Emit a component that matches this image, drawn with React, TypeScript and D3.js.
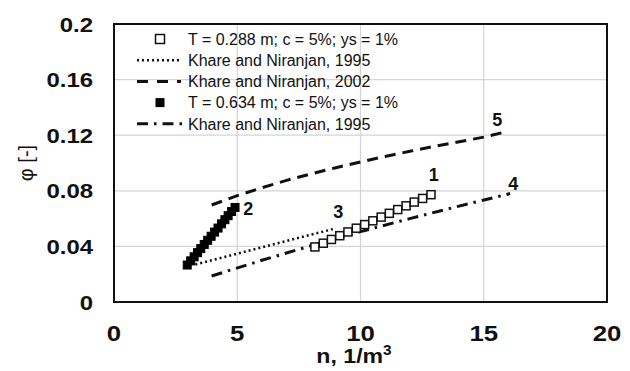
import React from "react";
import * as d3 from "d3";

const xTicks = [0, 5, 10, 15, 20];
const yTicks = [0, 0.04, 0.08, 0.12, 0.16, 0.2];
const yTickLabels = ["0", "0.04", "0.08", "0.12", "0.16", "0.2"];

// Series 1: T = 0.288 m (open squares)
const s1x = [8.15, 8.49, 8.82, 9.16, 9.49, 9.83, 10.17, 10.5, 10.84, 11.17, 11.51, 11.85, 12.18, 12.52, 12.86];
const s1y = [0.0396, 0.0423, 0.045, 0.0477, 0.0504, 0.0531, 0.0557, 0.0584, 0.0611, 0.0638, 0.0665, 0.0692, 0.0719, 0.0745, 0.0772];

// Series 2: T = 0.634 m (filled squares)
const s2x = [2.97, 3.11, 3.25, 3.39, 3.52, 3.66, 3.8, 3.94, 4.08, 4.22, 4.36, 4.5, 4.63, 4.77, 4.91];
const s2y = [0.0266, 0.0296, 0.0325, 0.0355, 0.0384, 0.0414, 0.0444, 0.0473, 0.0503, 0.0532, 0.0562, 0.0592, 0.0621, 0.0651, 0.068];

// Line 3: Khare and Niranjan, 1995 (dotted)
const l3x = [3.3, 9.0];
const l3y = [0.027, 0.053];

// Line 4: Khare and Niranjan, 1995 (dash-dot)
const l4x = [3.96, 6, 8, 10, 12, 14, 16.07];
const l4y = [0.0187, 0.03, 0.0405, 0.0506, 0.06, 0.069, 0.078];

// Line 5: Khare and Niranjan, 2002 (dashed)
const l5x = [3.96, 5, 6, 7, 8, 9, 10, 11, 12, 13, 14, 15, 15.8];
const l5y = [0.0698, 0.0765, 0.0822, 0.0875, 0.0922, 0.0966, 0.1008, 0.1047, 0.1084, 0.112, 0.1153, 0.1186, 0.122];

const legendLabels = [
  "T = 0.288 m; c = 5%; ys = 1%",
  "Khare and Niranjan, 1995",
  "Khare and Niranjan, 2002",
  "T = 0.634 m; c = 5%; ys = 1%",
  "Khare and Niranjan, 1995",
];

const curveLabels = ["1", "2", "3", "4", "5"];
const curveLabelX = [12.97, 5.45, 9.1, 16.2, 15.55];
const curveLabelY = [0.0915, 0.0675, 0.065, 0.085, 0.1313];

const FONT = "Arial, 'Liberation Sans', sans-serif";

export default function App() {
  const W = 630, H = 371;
  const left = 114, right = 607, top = 24, bottom = 302;
  const x = d3.scaleLinear().domain([0, 20]).range([left, right]);
  const y = d3.scaleLinear().domain([0, 0.2]).range([bottom, top]);

  const line = d3.line<[number, number]>().x((d) => x(d[0])).y((d) => y(d[1]));
  const pts = (xs: number[], ys: number[]) => xs.map((v, i) => [v, ys[i]] as [number, number]);

  const sq = 8;
  const legY = [39, 60.2, 81.4, 102.6, 123.8];
  const legMarkX = 160;
  const legLineX0 = 137, legLineX1 = 181;
  const legTextX = 188;

  const dotted = "2 3";
  const dashed = "11 7";
  const dashDot = "11 6 2.5 6";

  return (
    <svg width={W} height={H} style={{ position: "absolute", left: 0, top: 0, background: "#fff" }}>
      <rect x={0} y={0} width={W} height={H} fill="#fff" />
      {/* gridlines */}
      {xTicks.slice(1, -1).map((t) => (
        <line key={"gx" + t} x1={x(t)} x2={x(t)} y1={top} y2={bottom} stroke="#d4d4d4" strokeWidth={1.2} />
      ))}
      {yTicks.slice(1, -1).map((t) => (
        <line key={"gy" + t} x1={left} x2={right} y1={y(t)} y2={y(t)} stroke="#d4d4d4" strokeWidth={1.2} />
      ))}
      {/* plot border */}
      <rect x={left} y={top} width={right - left} height={bottom - top} fill="none" stroke="#111" strokeWidth={2} />

      {/* tick labels */}
      {yTicks.map((t, i) => (
        <text key={"yt" + t} transform={`translate(93,${y(t) + 7.5}) scale(1.14,1)`} textAnchor="end" fontFamily={FONT} fontWeight="bold" fontSize={21} fill="#111">
          {yTickLabels[i]}
        </text>
      ))}
      {xTicks.map((t) => (
        <text key={"xt" + t} transform={`translate(${x(t)},341) scale(1.12,1)`} textAnchor="middle" fontFamily={FONT} fontWeight="bold" fontSize={23} fill="#111">
          {t}
        </text>
      ))}
      {/* axis titles */}
      <text transform="translate(354,363) scale(1.1,1)" textAnchor="middle" fontFamily={FONT} fontWeight="bold" fontSize={21} fill="#111">
        n, 1/m<tspan dy={-8} fontSize={14}>3</tspan>
      </text>
      <text transform="translate(33,163) rotate(-90)" textAnchor="middle" fontFamily={FONT} fontSize={20} fill="#111">
        φ [-]
      </text>

      {/* lines */}
      <path d={line(pts(l3x, l3y)) || ""} fill="none" stroke="#111" strokeWidth={2.5} strokeDasharray={dotted} />
      <path d={line(pts(l4x, l4y)) || ""} fill="none" stroke="#111" strokeWidth={3} strokeDasharray={dashDot} />
      <path d={line(pts(l5x, l5y)) || ""} fill="none" stroke="#111" strokeWidth={3} strokeDasharray={dashed} />

      {/* series markers */}
      {s1x.map((v, i) => (
        <rect key={"s1" + i} x={x(v) - sq / 2} y={y(s1y[i]) - sq / 2} width={sq} height={sq} fill="#fff" stroke="#111" strokeWidth={1.5} />
      ))}
      {s2x.map((v, i) => (
        <rect key={"s2" + i} x={x(v) - sq / 2} y={y(s2y[i]) - sq / 2} width={sq} height={sq} fill="#000" stroke="#000" strokeWidth={1} />
      ))}

      {/* curve labels */}
      {curveLabels.map((l, i) => (
        <text key={"cl" + l} x={x(curveLabelX[i])} y={y(curveLabelY[i]) + 6.5} textAnchor="middle" fontFamily={FONT} fontWeight="bold" fontSize={18} fill="#111">
          {l}
        </text>
      ))}

      {/* legend */}
      <rect x={legMarkX - sq / 2 - 0.5} y={legY[0] - sq / 2 - 0.5} width={sq + 1} height={sq + 1} fill="#fff" stroke="#111" strokeWidth={1.5} />
      <line x1={legLineX0} x2={legLineX1} y1={legY[1]} y2={legY[1]} stroke="#111" strokeWidth={2.5} strokeDasharray={dotted} />
      <line x1={legLineX0} x2={legLineX1} y1={legY[2]} y2={legY[2]} stroke="#111" strokeWidth={3} strokeDasharray="11 9" />
      <rect x={legMarkX - sq / 2 - 0.5} y={legY[3] - sq / 2 - 0.5} width={sq + 1} height={sq + 1} fill="#000" />
      <line x1={legLineX0} x2={legLineX1 + 2} y1={legY[4]} y2={legY[4]} stroke="#111" strokeWidth={3} strokeDasharray="11 6 2.5 6" />
      {legendLabels.map((l, i) => (
        <text key={"lg" + i} x={legTextX} y={legY[i] + 5.8} fontFamily={FONT} fontSize={16} fill="#111">
          {l}
        </text>
      ))}
    </svg>
  );
}
